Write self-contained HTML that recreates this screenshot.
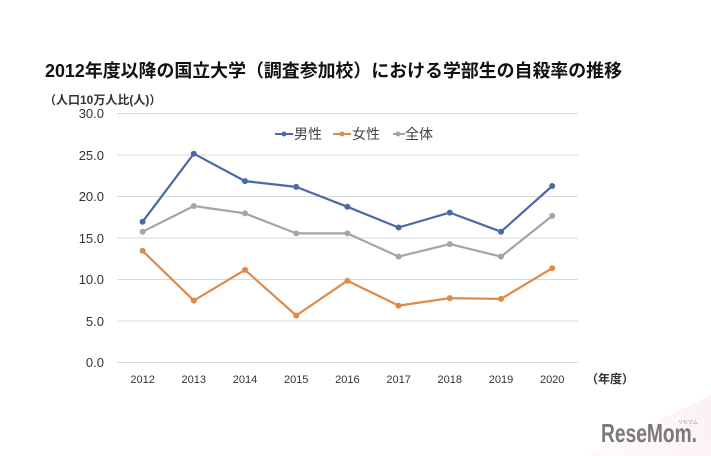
<!DOCTYPE html>
<html><head><meta charset="utf-8">
<style>
html,body{margin:0;padding:0;background:#fff;}
body{width:711px;height:456px;overflow:hidden;position:relative;font-family:"Liberation Sans","Noto Sans CJK JP",sans-serif;}
svg{position:absolute;left:0;top:0;}
</style></head><body>
<svg width="711" height="456" viewBox="0 0 711 456" xmlns="http://www.w3.org/2000/svg">
<defs>
<linearGradient id="pg" x1="600" y1="456" x2="711" y2="400" gradientUnits="userSpaceOnUse">
<stop offset="0" stop-color="#fefafb"/>
<stop offset="1" stop-color="#fcf1f3"/>
</linearGradient>
</defs>
<rect x="0" y="0" width="711" height="456" fill="#fff"/>
<polygon points="585,456 711,395 711,456" fill="url(#pg)"/>
<text x="45" y="77" font-size="18" font-weight="bold" fill="#111" font-family="Liberation Sans, Noto Sans CJK JP, sans-serif" textLength="577" lengthAdjust="spacingAndGlyphs">2012年度以降の国立大学（調査参加校）における学部生の自殺率の推移</text>
<text x="44" y="104" font-size="12" font-weight="bold" fill="#333" font-family="Liberation Sans, Noto Sans CJK JP, sans-serif">（人口10万人比(人)）</text>
<g stroke="#d9d9d9" stroke-width="1">
<line x1="117" x2="578" y1="113.5" y2="113.5"/>
<line x1="117" x2="578" y1="155" y2="155"/>
<line x1="117" x2="578" y1="196.5" y2="196.5"/>
<line x1="117" x2="578" y1="238" y2="238"/>
<line x1="117" x2="578" y1="279.5" y2="279.5"/>
<line x1="117" x2="578" y1="321" y2="321"/>
<line x1="117" x2="578" y1="362.5" y2="362.5"/>
</g>
<g font-size="13" fill="#333" text-anchor="end" font-family="Liberation Sans, sans-serif">
<text x="104" y="118">30.0</text>
<text x="104" y="160">25.0</text>
<text x="104" y="201">20.0</text>
<text x="104" y="243">15.0</text>
<text x="104" y="284">10.0</text>
<text x="104" y="326">5.0</text>
<text x="104" y="367">0.0</text>
</g>
<g font-size="11" fill="#333" text-anchor="middle" font-family="Liberation Sans, sans-serif">
<text x="142.6" y="383">2012</text>
<text x="193.8" y="383">2013</text>
<text x="245" y="383">2014</text>
<text x="296.2" y="383">2015</text>
<text x="347.4" y="383">2016</text>
<text x="398.6" y="383">2017</text>
<text x="449.8" y="383">2018</text>
<text x="501" y="383">2019</text>
<text x="552.2" y="383">2020</text>
</g>
<text x="586" y="383" font-size="12" font-weight="bold" fill="#333" font-family="Liberation Sans, Noto Sans CJK JP, sans-serif">（年度）</text>
<!-- legend -->
<g font-size="14" fill="#444" font-family="Liberation Sans, Noto Sans CJK JP, sans-serif">
<line x1="275" x2="293" y1="134" y2="134" stroke="#4a6aa5" stroke-width="2"/><circle cx="284" cy="134" r="2.5" fill="#4a6aa5"/>
<text x="294" y="139">男性</text>
<line x1="333" x2="351" y1="134" y2="134" stroke="#e08a4a" stroke-width="2"/><circle cx="342" cy="134" r="2.5" fill="#e08a4a"/>
<text x="352" y="139">女性</text>
<line x1="393" x2="405" y1="134" y2="134" stroke="#a5a5a5" stroke-width="2"/><circle cx="398" cy="134" r="2.5" fill="#a5a5a5"/>
<text x="405" y="139">全体</text>
</g>
<!-- series -->
<g fill="none" stroke-width="2.2" stroke-linejoin="round">
<polyline stroke="#a5a5a5" points="142.6,231.7 193.8,206 245,213.4 296.2,233.4 347.4,233.4 398.6,256.6 449.8,244.1 501,256.6 552.2,215.9"/>
<polyline stroke="#e08a4a" points="142.6,250.8 193.8,300.6 245,269.9 296.2,315.5 347.4,280.7 398.6,305.6 449.8,298.1 501,298.9 552.2,268.2"/>
<polyline stroke="#4a6aa5" points="142.6,221.7 193.8,153.7 245,181.1 296.2,186.9 347.4,206.8 398.6,227.5 449.8,212.6 501,231.7 552.2,186"/>
</g>
<g fill="#a5a5a5">
<circle cx="142.6" cy="231.7" r="3"/><circle cx="193.8" cy="206" r="3"/><circle cx="245" cy="213.4" r="3"/><circle cx="296.2" cy="233.4" r="3"/><circle cx="347.4" cy="233.4" r="3"/><circle cx="398.6" cy="256.6" r="3"/><circle cx="449.8" cy="244.1" r="3"/><circle cx="501" cy="256.6" r="3"/><circle cx="552.2" cy="215.9" r="3"/>
</g>
<g fill="#e08a4a">
<circle cx="142.6" cy="250.8" r="3"/><circle cx="193.8" cy="300.6" r="3"/><circle cx="245" cy="269.9" r="3"/><circle cx="296.2" cy="315.5" r="3"/><circle cx="347.4" cy="280.7" r="3"/><circle cx="398.6" cy="305.6" r="3"/><circle cx="449.8" cy="298.1" r="3"/><circle cx="501" cy="298.9" r="3"/><circle cx="552.2" cy="268.2" r="3"/>
</g>
<g fill="#4a6aa5">
<circle cx="142.6" cy="221.7" r="3"/><circle cx="193.8" cy="153.7" r="3"/><circle cx="245" cy="181.1" r="3"/><circle cx="296.2" cy="186.9" r="3"/><circle cx="347.4" cy="206.8" r="3"/><circle cx="398.6" cy="227.5" r="3"/><circle cx="449.8" cy="212.6" r="3"/><circle cx="501" cy="231.7" r="3"/><circle cx="552.2" cy="186" r="3"/>
</g>
<!-- logo -->
<text x="601" y="442" font-size="26" font-weight="bold" fill="#7a7a7a" font-family="Liberation Sans, sans-serif" textLength="96" lengthAdjust="spacingAndGlyphs">ReseMom.</text>
<text x="678" y="424" font-size="5" fill="#999" font-family="Noto Sans CJK JP, sans-serif">リセマム</text>
</svg>
</body></html>
